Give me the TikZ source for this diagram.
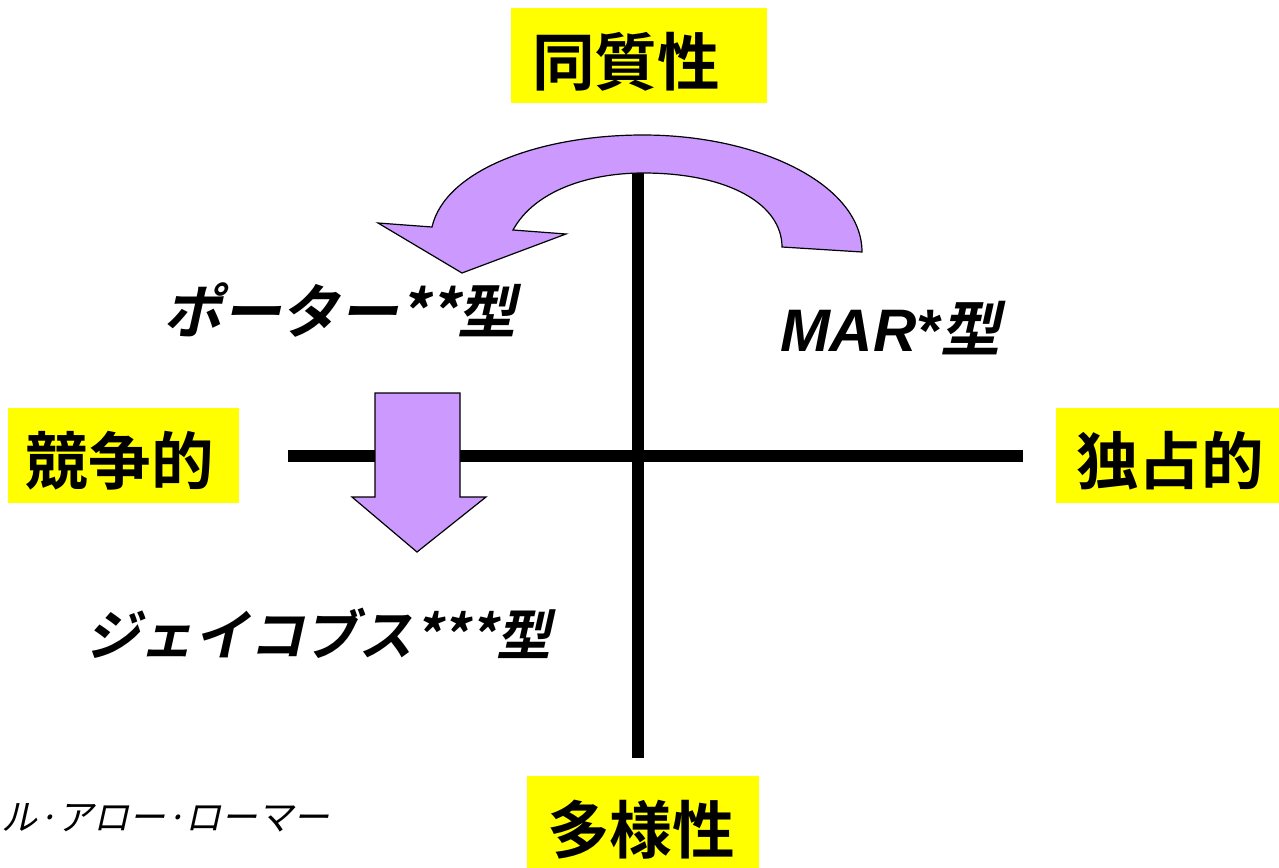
\documentclass[tikz,border=0pt]{standalone}
\usepackage{fontspec}
\newfontfamily\jpb{Noto Sans CJK JP Bold}
\newfontfamily\jpbi{Noto Sans CJK JP Bold}[FakeSlant=0.22]
\newfontfamily\jpi{Noto Sans CJK JP}[FakeSlant=0.22]
\newfontfamily\arl{Liberation Sans}
\definecolor{hl}{HTML}{FFFF00}
\definecolor{pu}{HTML}{CC99FF}
\begin{document}
\begin{tikzpicture}[x=0.75pt,y=-0.75pt,
  axis/.style={line width=9pt},
  fat/.style={draw=black, line width=0.9pt, fill=pu, line join=miter},
  lab/.style={font=\jpb\fontsize{47}{50}\selectfont, inner sep=0},
  typ/.style={font=\jpbi\fontsize{44}{48}\selectfont, inner sep=0}]
\useasboundingbox (0,0) rectangle (1279,868);
\clip (0,0) rectangle (1279,868);
% yellow boxes
\fill[hl] (511,8) rectangle (767,103);
\fill[hl] (8,408) rectangle (239,503);
\fill[hl] (1056,408) rectangle (1279,503);
\fill[hl] (527,776) rectangle (759,868);
\node[lab] (top) at (626,62) {同質性};
\node[lab] (left) at (120,461) {競争的};
\node[lab] (right) at (1170,461) {独占的};
\node[lab] (bottom) at (641,830) {多様性};
% axes
\coordinate (hL) at (288,456);
\coordinate (hR) at (1023,456);
\coordinate (vT) at (638,173);
\coordinate (vB) at (638,758);
\draw[axis] (hL) -- (hR);
\draw[axis] (vT) -- (vB);
% curved arrow
\draw[fat] (782,247) -- (862,252)
  .. controls (862,185) and (760,135) .. (643,135)
  .. controls (540,135) and (445,170) .. (432,227)
  -- (378,223) -- (462,273) -- (566,234) -- (513,230)
  .. controls (535,190) and (590,173) .. (643,173)
  .. controls (730,173) and (782,205) .. (782,247) -- cycle;
% down arrow
\draw[fat] (375,393) -- (460,393) -- (460,497) -- (486,497) -- (417,552)
  -- (352,497) -- (375,497) -- cycle;
% type labels
\node[typ] (porter) at (340,310) {ポーター**型};
\node[inner sep=0, font=\fontsize{45}{48}\selectfont] (mar) at (890,328) {{\arl\bfseries\itshape MAR*}{\jpbi 型}};
\node[typ, font=\jpbi\fontsize{41}{45}\selectfont] (jacobs) at (318,633) {ジェイコブス***型};
\node[font=\jpi\fontsize{27}{30}\selectfont, anchor=east, inner sep=0] (names) at (330,818) {マーシャル·アロー·ローマー};
\end{tikzpicture}
\end{document}
